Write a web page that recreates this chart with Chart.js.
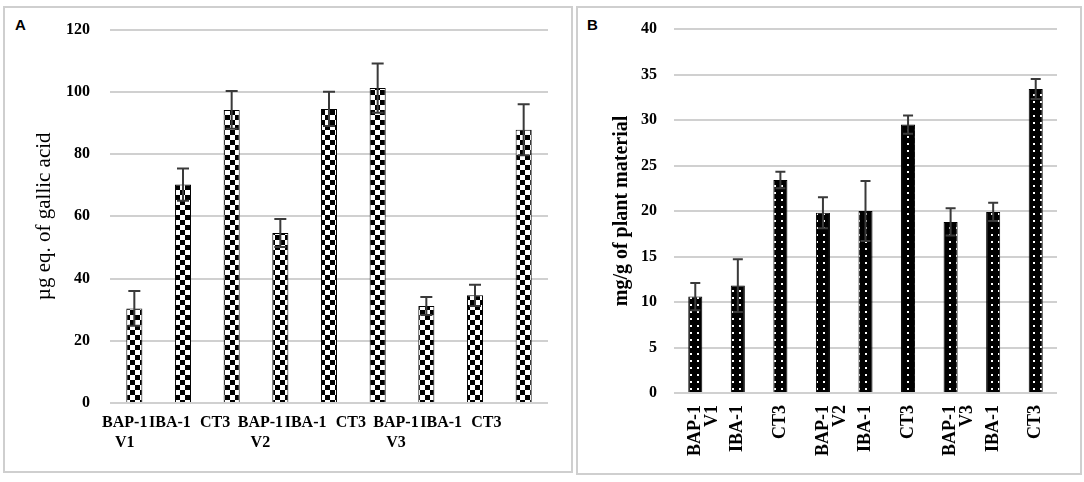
<!DOCTYPE html>
<html><head><meta charset="utf-8">
<script src="https://cdn.jsdelivr.net/npm/chart.js@4.4.1/dist/chart.umd.min.js"></script>
<style>
html,body{margin:0;padding:0;background:#fff;width:1084px;height:482px;overflow:hidden;}
.panel{position:absolute;border:2px solid #cfcfcf;box-sizing:border-box;}
#pa{left:3px;top:6px;width:570px;height:467px;}
#pb{left:576px;top:6px;width:506px;height:469px;}
.lab{position:absolute;font:bold 15px "Liberation Sans",Arial,sans-serif;color:#000;}
#ca{position:absolute;left:0;top:0;}
#cb{position:absolute;left:575px;top:0;}
</style></head><body>
<div class="panel" id="pa"></div><div class="panel" id="pb"></div>
<div class="lab" style="left:15px;top:16px">A</div>
<div class="lab" style="left:587px;top:16px">B</div>
<canvas id="ca" width="575" height="482"></canvas>
<canvas id="cb" width="509" height="482"></canvas>
<script>
// ---- Data ----
const categoriesA = ["BAP-1","IBA-1","CT3","BAP-1","IBA-1","CT3","BAP-1","IBA-1","CT3"];
const groupsA = ["V1","","","V2","","","V3","",""];
const valuesA = [30.4,70.2,94.2,54.6,94.5,101.2,31.2,34.6,87.8];
const errorsA = [5.6,5.2,6.1,4.5,5.5,7.9,2.9,3.4,8.2];
const yTicksA = {min:0,max:120,step:20};
const titleA = "µg eq. of gallic acid";

const categoriesB = ["BAP-1","IBA-1","CT3","BAP-1","IBA-1","CT3","BAP-1","IBA-1","CT3"];
const groupsB = ["V1","","","V2","","","V3","",""];
const valuesB = [10.6,11.8,23.4,19.8,20.0,29.5,18.8,19.9,33.4];
const errorsB = [1.5,2.9,0.9,1.7,3.3,1.0,1.5,1.0,1.1];
const yTicksB = {min:0,max:40,step:5};
const titleB = "mg/g of plant material";

const SERIF = '"Liberation Serif","Times New Roman",serif';
Chart.defaults.color = '#000';

// ---- Patterns ----
function checker(){
  const c=document.createElement('canvas');c.width=10;c.height=10;
  const x=c.getContext('2d');x.fillStyle='#fff';x.fillRect(0,0,10,10);
  x.fillStyle='#000';x.fillRect(0,0,5,5);x.fillRect(5,5,5,5);
  return x.createPattern(c,'repeat');
}
function dots(){
  const c=document.createElement('canvas');c.width=7;c.height=7;
  const x=c.getContext('2d');x.fillStyle='#000';x.fillRect(0,0,7,7);
  x.fillStyle='#fff';x.fillRect(3,3,2,2);
  return x.createPattern(c,'repeat');
}

// ---- Error bars plugin ----
const errBars = {
  id:'errBars',
  afterDatasetsDraw(chart){
    const ds = chart.data.datasets[0];
    const meta = chart.getDatasetMeta(0);
    const ys = chart.scales.y;
    const ctx = chart.ctx;
    const cap = ds.errCap || 12;
    ctx.save();
    ctx.strokeStyle = '#3a3a3a';
    ctx.lineWidth = 2;
    meta.data.forEach((bar,i)=>{
      const v = ds.data[i], e = ds.errors[i];
      const x = bar.x;
      const yt = ys.getPixelForValue(v+e), yb = ys.getPixelForValue(v-e);
      ctx.beginPath();
      ctx.moveTo(x,yt);ctx.lineTo(x,yb);
      ctx.moveTo(x-cap/2,yt);ctx.lineTo(x+cap/2,yt);
      ctx.moveTo(x-cap/2,yb);ctx.lineTo(x+cap/2,yb);
      ctx.stroke();
    });
    ctx.restore();
  }
};

// ---- Custom x labels for panel A (two-level category axis) ----
const xLabelsA = {
  id:'xLabelsA',
  afterDraw(chart){
    if(chart.canvas.id!=='ca') return;
    const xs = chart.scales.x, ctx = chart.ctx;
    const p0 = xs.getPixelForValue(0), step = xs.getPixelForValue(1)-p0;
    ctx.save();
    ctx.font = 'bold 16px '+SERIF;
    ctx.fillStyle='#000';ctx.textAlign='center';ctx.textBaseline='middle';
    categoriesA.forEach((c,i)=>{
      const x = p0 - 9.6 + i*step*0.929;
      ctx.fillText(c, x, xs.top+20);
      if(groupsA[i]) ctx.fillText(groupsA[i], x, xs.top+40);
    });
    ctx.restore();
  }
};

new Chart(document.getElementById('ca'),{
  type:'bar',
  data:{labels:categoriesA,datasets:[{data:valuesA,errors:errorsA,errCap:12,
    backgroundColor:checker(),borderColor:'#000',borderWidth:1,
    barPercentage:0.33,categoryPercentage:1}]},
  options:{
    responsive:false,animation:false,devicePixelRatio:1,
    layout:{padding:{top:29,right:27,left:0,bottom:0}},
    plugins:{legend:{display:false},tooltip:{enabled:false}},
    scales:{
      x:{grid:{display:false,drawTicks:false},border:{display:false},ticks:{display:false},
         afterFit(s){s.height=79;}},
      y:{min:yTicksA.min,max:yTicksA.max,
         ticks:{stepSize:yTicksA.step,padding:20,color:'#000',font:{family:SERIF,size:16,weight:'bold'}},
         grid:{color:'#d0d0d0',lineWidth:2,drawTicks:false},border:{display:false},
         title:{display:true,text:titleA,color:'#000',font:{family:SERIF,size:21,weight:'normal'},padding:{top:32,bottom:0}},
         afterFit(s){s.width=110;}}
    }
  },
  plugins:[errBars,xLabelsA]
});

function mkLabels(cats,groups){return cats.map((c,i)=>groups[i]?[c,groups[i]]:c);}

new Chart(document.getElementById('cb'),{
  type:'bar',
  data:{labels:mkLabels(categoriesB,groupsB),datasets:[{data:valuesB,errors:errorsB,errCap:10,
    backgroundColor:dots(),borderColor:'#000',borderWidth:1,
    barPercentage:0.33,categoryPercentage:1}]},
  options:{
    responsive:false,animation:false,devicePixelRatio:1,
    layout:{padding:{top:29,right:27,left:0,bottom:0}},
    plugins:{legend:{display:false},tooltip:{enabled:false}},
    scales:{
      x:{grid:{display:false,drawTicks:false},border:{display:false},
         ticks:{autoSkip:false,minRotation:90,maxRotation:90,padding:12,color:'#000',
                font:{family:SERIF,size:18,weight:'bold',lineHeight:0.95}},
         afterFit(s){s.height=89;}},
      y:{min:yTicksB.min,max:yTicksB.max,
         ticks:{stepSize:yTicksB.step,padding:17,color:'#000',font:{family:SERIF,size:16,weight:'bold'}},
         grid:{color:'#d0d0d0',lineWidth:2,drawTicks:false},border:{display:false},
         title:{display:true,text:titleB,color:'#000',font:{family:SERIF,size:20,weight:'bold'},padding:{top:35,bottom:0}},
         afterFit(s){s.width=99;}}
    }
  },
  plugins:[errBars]
});
</script>
</body></html>
